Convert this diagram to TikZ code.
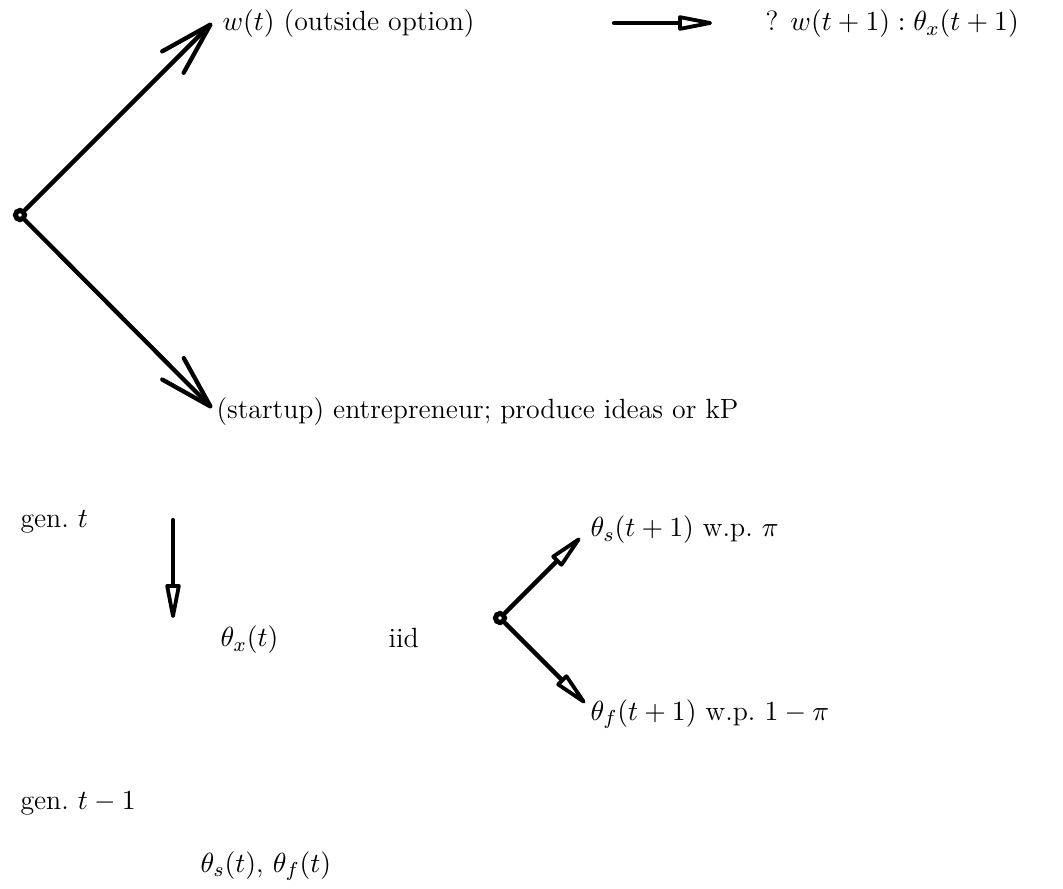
\documentclass[tikz,border=0pt]{standalone}
\usetikzlibrary{arrows.meta}
\begin{document}
\begin{tikzpicture}[x=0.0139cm,y=-0.0139cm,
  lw/.style={line width=1.7pt,line cap=round},
  bigarr/.style={lw,-{Straight Barb[length=21pt,width=12pt,line width=1.7pt,round]}},
  smallarr/.style={lw,-{Triangle[open,length=17pt,width=6pt,line width=1.5pt,round]}},
  dot/.style={circle,draw,line width=2pt,inner sep=0pt,minimum size=3.6pt},
  lbl/.style={anchor=west,inner sep=0pt,font=\fontsize{11}{13}\selectfont}]
\useasboundingbox (0,0) rectangle (1063,888);
\node[dot] (c1) at (20,215) {};
\coordinate (t1) at (212,23);
\coordinate (b1) at (212,408);
\draw[bigarr] (c1) -- (t1);
\draw[bigarr] (c1) -- (b1);
\node[lbl] (wt) at (222,24) {$w(t)$ (outside option)};
\coordinate (h0) at (614,23);
\coordinate (h1) at (712,23);
\draw[smallarr] (h0) -- (h1);
\node[lbl] (q) at (765,24) {? $w(t+1):\theta_x(t+1)$};
\node[lbl] (ent) at (216,412) {(startup) entrepreneur; produce ideas or kP};
\node[lbl] (gt) at (20,522) {gen.\ $t$};
\coordinate (v0) at (173,520);
\coordinate (v1) at (173,618);
\draw[smallarr] (v0) -- (v1);
\node[lbl] (tx) at (220,640) {$\theta_x(t)$};
\node[lbl] (iid) at (388,638) {iid};
\node[dot] (c2) at (500,618) {};
\coordinate (s1) at (580,538);
\coordinate (f1) at (585,703);
\draw[smallarr] (c2) -- (s1);
\draw[smallarr] (c2) -- (f1);
\node[lbl] (ts) at (590,530) {$\theta_s(t+1)$ w.p.\ $\pi$};
\node[lbl] (tf) at (590,714) {$\theta_f(t+1)$ w.p.\ $1-\pi$};
\node[lbl] (gt1) at (20,803) {gen.\ $t-1$};
\node[lbl] (tsf) at (200,866) {$\theta_s(t)$,\ $\theta_f(t)$};
\end{tikzpicture}
\end{document}
